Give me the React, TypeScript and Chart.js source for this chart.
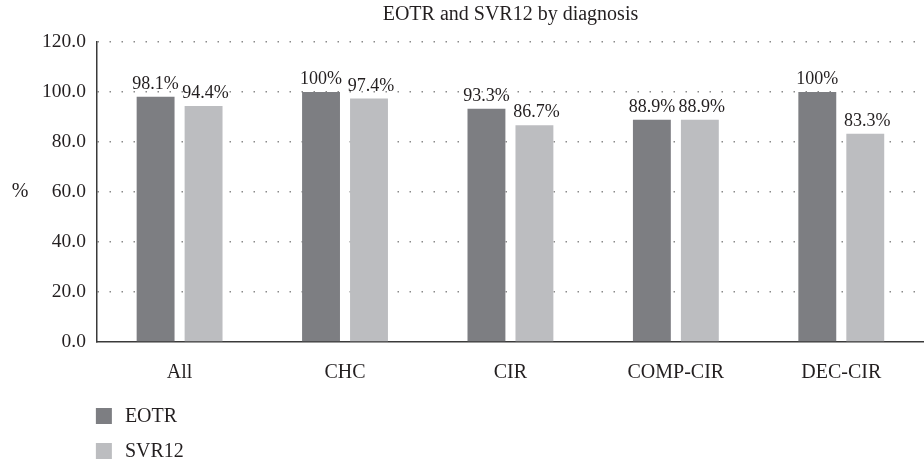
import React, { useEffect, useRef } from "react";
import { Chart, registerables } from "chart.js";

Chart.register(...registerables);

const categories = ["All", "CHC", "CIR", "COMP-CIR", "DEC-CIR"];
const eotrValues = [98.1, 100, 93.3, 88.9, 100];
const svr12Values = [94.4, 97.4, 86.7, 88.9, 83.3];
const seriesNames = ["EOTR", "SVR12"];
const seriesColors = ["#7d7e82", "#bcbdc0"];
const chartTitle = "EOTR and SVR12 by diagnosis";
const yAxisTitle = "%";

const FONT = "'Liberation Serif', 'DejaVu Serif', serif";
const TEXT = "#231f20";

const extrasPlugin = {
  id: "extras",
  afterDatasetsDraw(chart: any) {
    const ctx = chart.ctx;
    ctx.save();
    ctx.font = `18px ${FONT}`;
    ctx.fillStyle = TEXT;
    ctx.textAlign = "center";
    ctx.textBaseline = "alphabetic";
    chart.data.datasets.forEach((ds: any, di: number) => {
      const meta = chart.getDatasetMeta(di);
      meta.data.forEach((bar: any, i: number) => {
        const v = ds.data[i];
        ctx.fillText(String(v) + "%", bar.x + (di === 1 ? 2 : 0), bar.y - 8);
      });
    });
    // y axis title (horizontal)
    const ca = chart.chartArea;
    ctx.font = `20px ${FONT}`;
    ctx.textAlign = "center";
    ctx.textBaseline = "middle";
    ctx.fillText(yAxisTitle, 20, (ca.top + ca.bottom) / 2);
    // legend
    ctx.textAlign = "left";
    chart.data.datasets.forEach((ds: any, di: number) => {
      const y = 408 + di * 35;
      ctx.fillStyle = ds.backgroundColor;
      ctx.fillRect(ca.left - 1, y, 16, 16);
      ctx.fillStyle = TEXT;
      ctx.fillText(ds.label, ca.left + 28, y + 9);
    });
    ctx.restore();
  },
};

export default function App() {
  const ref = useRef<HTMLCanvasElement>(null);
  useEffect(() => {
    if (!ref.current) return;
    const chart = new Chart(ref.current, {
      type: "bar",
      data: {
        labels: categories,
        datasets: [
          { label: seriesNames[0], data: eotrValues, backgroundColor: seriesColors[0] },
          { label: seriesNames[1], data: svr12Values, backgroundColor: seriesColors[1] },
        ],
      },
      options: {
        responsive: false,
        animation: false,
        layout: { padding: { left: 31, right: 0, top: 0, bottom: 67 } },
        datasets: {
          bar: { categoryPercentage: 0.58, barPercentage: 0.79 },
        },
        plugins: {
          legend: { display: false },
          tooltip: { enabled: false },
          title: {
            display: true,
            text: chartTitle,
            fullSize: false,
            color: TEXT,
            font: { family: FONT, size: 20, weight: "normal" },
            padding: { top: 3, bottom: 15 },
          },
        },
        scales: {
          x: {
            grid: { display: false },
            border: { display: true, color: "#3a3a3a", width: 1.5 },
            ticks: { color: TEXT, font: { family: FONT, size: 20 }, padding: 11 },
          },
          y: {
            min: 0,
            max: 120,
            ticks: {
              stepSize: 20,
              color: TEXT,
              font: { family: FONT, size: 19.5 },
              padding: 11,
              callback: (v: any) => Number(v).toFixed(1),
            },
            grid: {
              color: (c: any) => (c.tick && c.tick.value === 0 ? "rgba(0,0,0,0)" : "#8a8a8a"),
              lineWidth: 1.5,
              drawTicks: false,
            },
            border: { display: true, color: "#3a3a3a", width: 1.5, dash: [1.5, 10.5] },
          },
        },
      } as any,
      plugins: [extrasPlugin],
    });
    return () => chart.destroy();
  }, []);
  return (
    <div style={{ position: "absolute", left: 0, top: 0, width: 924, height: 463 }}>
      <canvas ref={ref} width={924} height={463} style={{ width: 924, height: 463 }} />
    </div>
  );
}
